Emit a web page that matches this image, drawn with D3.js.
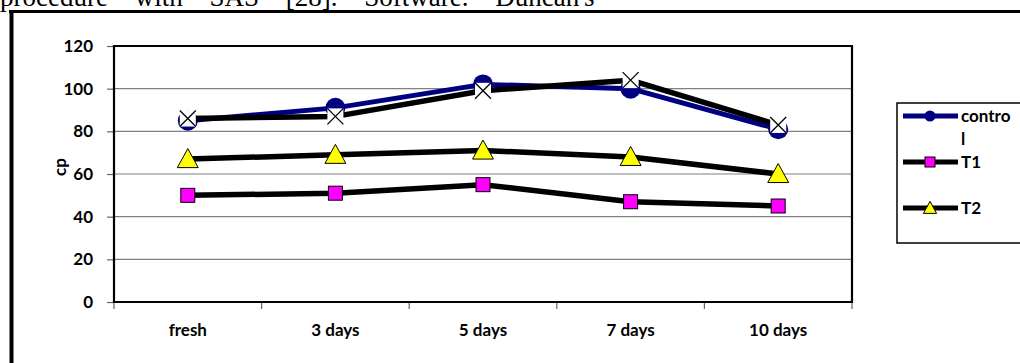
<!DOCTYPE html>
<html>
<head>
<meta charset="utf-8">
<script src="https://cdn.jsdelivr.net/npm/d3@7"></script>
<style>
  body { margin: 0; background: #fff; }
  svg { display: block; }
</style>
</head>
<body>
<svg id="chart" width="1020" height="363"></svg>
<script>
// Storage time points
const categories = ["fresh", "3 days", "5 days", "7 days", "10 days"];
// cp values per treatment
const control = [85, 91, 102, 100, 81];
const t1 = [50, 51, 55, 47, 45];
const t2 = [67, 69, 71, 68, 60];
const t3 = [86, 87, 99, 104, 83];
const yTicks = [0, 20, 40, 60, 80, 100, 120];
const headerLine = "procedure with SAS [28]. Software. Duncan's";

const svg = d3.select("#chart");
const font = "Lato, 'Open Sans', sans-serif";

// Running text of the page above the figure
svg.append("text")
  .attr("x", 0).attr("y", 6)
  .attr("font-family", "'Liberation Serif', 'Times New Roman', serif")
  .attr("font-size", 27)
  .attr("word-spacing", "20px")
  .attr("fill", "#000")
  .text(headerLine);

// Figure frame (top and left edges)
svg.append("line").attr("x1", 9).attr("x2", 1020).attr("y1", 11.5).attr("y2", 11.5)
  .attr("stroke", "#000").attr("stroke-width", 3);
svg.append("line").attr("x1", 11.5).attr("x2", 11.5).attr("y1", 10).attr("y2", 363)
  .attr("stroke", "#000").attr("stroke-width", 4);

const plot = { left: 114, right: 852, top: 46, bottom: 302 };

const x = d3.scaleBand().domain(categories).range([plot.left, plot.right]);
const y = d3.scaleLinear().domain([0, 120]).range([plot.bottom, plot.top]);

// Horizontal gridlines
svg.append("g").selectAll("line")
  .data(yTicks.filter(v => v > 0 && v < 120))
  .join("line")
  .attr("x1", plot.left).attr("x2", plot.right)
  .attr("y1", d => y(d)).attr("y2", d => y(d))
  .attr("stroke", "#808080").attr("stroke-width", 1.2);

// Y axis ticks and labels
const yAxis = svg.append("g")
  .attr("transform", `translate(${plot.left},0)`)
  .call(d3.axisLeft(y).tickValues(yTicks).tickSize(7).tickPadding(14));
yAxis.select(".domain").remove();
yAxis.selectAll(".tick line").attr("stroke", "#666").attr("stroke-width", 1.2);
yAxis.selectAll(".tick text")
  .attr("font-family", font).attr("font-weight", "bold")
  .attr("font-size", 17).attr("fill", "#000");

// X axis ticks on category boundaries
const bounds = d3.range(categories.length + 1).map(i => plot.left + i * x.step());
svg.append("g").selectAll("line")
  .data(bounds)
  .join("line")
  .attr("x1", d => d).attr("x2", d => d)
  .attr("y1", plot.bottom).attr("y2", plot.bottom + 7)
  .attr("stroke", "#666").attr("stroke-width", 1.2);

svg.append("g").selectAll("text")
  .data(categories)
  .join("text")
  .attr("x", d => x(d) + x.bandwidth() / 2)
  .attr("y", 336)
  .attr("text-anchor", "middle")
  .attr("font-family", font).attr("font-weight", "bold")
  .attr("font-size", 17).attr("fill", "#000")
  .text(d => d);

// Plot area border
svg.append("path")
  .attr("d", `M${plot.left},${plot.bottom}V${plot.top}H${plot.right}V${plot.bottom}Z`)
  .attr("fill", "none").attr("stroke", "#000").attr("stroke-width", 2.2);

// Y axis title
svg.append("text")
  .attr("transform", "translate(66,167) rotate(-90)")
  .attr("text-anchor", "middle")
  .attr("font-family", font).attr("font-weight", "bold")
  .attr("font-size", 17).attr("fill", "#000")
  .text("cp");

const cx = (d, i) => x(categories[i]) + x.bandwidth() / 2;
const line = d3.line().x(cx).y(d => y(d));

function drawLine(values, color, width) {
  svg.append("path")
    .datum(values)
    .attr("d", line)
    .attr("fill", "none")
    .attr("stroke", color)
    .attr("stroke-width", width)
    .attr("stroke-linejoin", "round");
}

const triPath = (s) => `M0,${-s * 0.55}L${s * 0.55},${s * 0.45}L${-s * 0.55},${s * 0.45}Z`;

// control
drawLine(control, "#000080", 5);
svg.append("g").selectAll("circle")
  .data(control).join("circle")
  .attr("cx", cx).attr("cy", d => y(d)).attr("r", 10)
  .attr("fill", "#000080");

// T1
drawLine(t1, "#000", 5.5);
svg.append("g").selectAll("rect")
  .data(t1).join("rect")
  .attr("x", (d, i) => cx(d, i) - 7).attr("y", d => y(d) - 7)
  .attr("width", 14).attr("height", 14)
  .attr("fill", "#ff00ff").attr("stroke", "#000").attr("stroke-width", 1);

// T2
drawLine(t2, "#000", 5.5);
svg.append("g").selectAll("path")
  .data(t2).join("path")
  .attr("transform", (d, i) => `translate(${cx(d, i)},${y(d)})`)
  .attr("d", triPath(19))
  .attr("fill", "#ffff00").attr("stroke", "#000").attr("stroke-width", 1);

// T3
drawLine(t3, "#000", 5.5);
const xm = svg.append("g").selectAll("g")
  .data(t3).join("g")
  .attr("transform", (d, i) => `translate(${cx(d, i)},${y(d)})`);
xm.append("rect").attr("x", -8).attr("y", -8).attr("width", 16).attr("height", 16)
  .attr("fill", "#fff");
xm.append("path").attr("d", "M-8,-8L8,8M8,-8L-8,8")
  .attr("stroke", "#000").attr("stroke-width", 1.3);

// Legend
const lg = svg.append("g");
lg.append("rect").attr("x", 897).attr("y", 103).attr("width", 140).attr("height", 140)
  .attr("fill", "#fff").attr("stroke", "#000").attr("stroke-width", 1.5);

const legendItems = [
  { lines: ["contro", "l"], color: "#000080", y: 116, marker: "circle" },
  { lines: ["T1"], color: "#000", y: 162, marker: "square" },
  { lines: ["T2"], color: "#000", y: 208, marker: "triangle" }
];
legendItems.forEach(it => {
  lg.append("line").attr("x1", 903).attr("x2", 958).attr("y1", it.y).attr("y2", it.y)
    .attr("stroke", it.color).attr("stroke-width", 5);
  if (it.marker === "circle") {
    lg.append("circle").attr("cx", 930).attr("cy", it.y).attr("r", 5.5).attr("fill", "#000080");
  } else if (it.marker === "square") {
    lg.append("rect").attr("x", 925).attr("y", it.y - 5).attr("width", 10).attr("height", 10)
      .attr("fill", "#ff00ff").attr("stroke", "#000").attr("stroke-width", 1);
  } else {
    lg.append("path").attr("transform", `translate(930,${it.y})`).attr("d", triPath(12))
      .attr("fill", "#ffff00").attr("stroke", "#000").attr("stroke-width", 1);
  }
  const t = lg.append("text")
    .attr("font-family", font).attr("font-weight", "bold")
    .attr("font-size", 17).attr("fill", "#000");
  it.lines.forEach((s, k) => {
    t.append("tspan").attr("x", 961).attr("y", it.y + 6 + k * 23).text(s);
  });
});
</script>
</body>
</html>
